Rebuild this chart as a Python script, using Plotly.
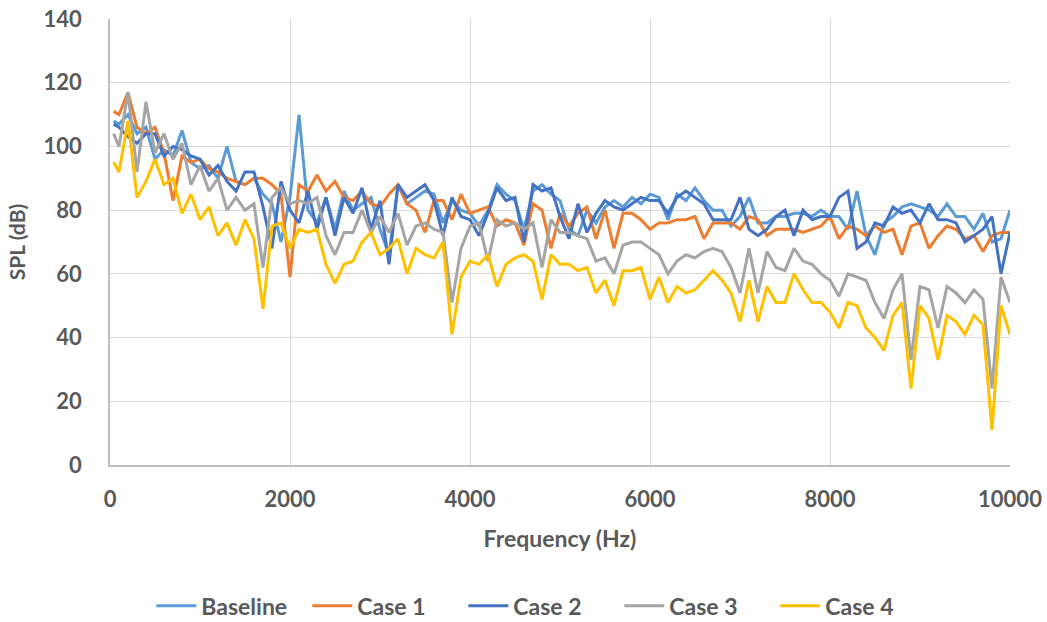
import plotly.graph_objects as go

# Frequency grid (Hz)
freq = [40] + list(range(100, 10001, 100))

baseline = [108, 107, 110, 104, 106, 96, 99, 97, 105, 95,
            93, 94, 90, 100, 89, 88, 90, 85, 82, 70,
            84, 110, 80, 76, 84, 74, 86, 80, 82, 84,
            74, 66, 88, 82, 84, 86, 85, 76, 83, 80,
            79, 75, 80, 88, 85, 83, 74, 86, 88, 85,
            83, 74, 72, 80, 76, 81, 83, 81, 84, 82,
            85, 84, 77, 85, 83, 87, 83, 80, 80, 75,
            78, 84, 76, 76, 78, 78, 79, 79, 78, 80,
            78, 78, 74, 86, 72, 66, 76, 78, 81, 82,
            81, 80, 78, 82, 78, 78, 74, 79, 70, 71,
            80]

case1 = [111, 110, 117, 106, 104, 106, 98, 83, 97, 95,
         96, 93, 92, 90, 89, 88, 90, 90, 88, 85,
         59, 88, 86, 91, 86, 89, 84, 83, 86, 82,
         81, 85, 88, 82, 80, 73, 83, 83, 77, 85,
         79, 80, 81, 75, 77, 76, 69, 82, 80, 68,
         79, 75, 79, 81, 71, 80, 68, 79, 79, 77,
         74, 76, 76, 77, 77, 78, 71, 76, 76, 76,
         74, 78, 77, 72, 74, 74, 74, 73, 74, 75,
         78, 71, 75, 74, 72, 75, 73, 74, 66, 75,
         76, 68, 72, 75, 74, 71, 72, 67, 72, 73,
         73]

case2 = [107, 106, 103, 101, 104, 104, 97, 100, 99, 97,
         96, 91, 94, 89, 86, 92, 92, 81, 68, 89,
         80, 76, 86, 74, 84, 72, 84, 79, 87, 74,
         83, 63, 88, 84, 86, 88, 83, 72, 84, 78,
         77, 72, 79, 87, 83, 84, 70, 88, 86, 87,
         78, 71, 82, 73, 79, 83, 81, 80, 82, 84,
         83, 83, 79, 84, 86, 84, 82, 77, 77, 77,
         84, 74, 72, 74, 78, 80, 72, 80, 77, 78,
         78, 84, 86, 68, 70, 76, 75, 81, 79, 80,
         76, 82, 77, 77, 76, 70, 72, 74, 78, 60,
         73]

case3 = [104, 100, 117, 92, 114, 98, 104, 96, 101, 88,
         94, 86, 90, 80, 84, 80, 82, 62, 84, 87,
         82, 83, 82, 84, 72, 66, 73, 73, 80, 73,
         78, 73, 79, 69, 75, 76, 74, 73, 51, 68,
         75, 76, 64, 77, 75, 76, 74, 76, 62, 77,
         73, 73, 72, 71, 64, 65, 60, 69, 70, 70,
         68, 66, 60, 64, 66, 65, 67, 68, 67, 62,
         54, 68, 54, 67, 62, 61, 68, 64, 63, 60,
         58, 53, 60, 59, 58, 51, 46, 55, 60, 33,
         56, 55, 43, 56, 54, 51, 55, 52, 24, 59,
         51]

case4 = [95, 92, 108, 84, 89, 96, 88, 90, 79, 85,
         77, 81, 72, 76, 69, 77, 71, 49, 75, 76,
         68, 74, 73, 74, 63, 57, 63, 64, 70, 73,
         66, 68, 71, 60, 68, 66, 65, 70, 41, 59,
         64, 63, 66, 56, 63, 65, 66, 64, 52, 66,
         63, 63, 61, 62, 54, 58, 50, 61, 61, 62,
         52, 59, 51, 56, 54, 55, 58, 61, 58, 54,
         45, 58, 45, 56, 51, 51, 60, 55, 51, 51,
         48, 43, 51, 50, 43, 40, 36, 47, 51, 24,
         50, 46, 33, 47, 45, 41, 47, 44, 11, 50,
         41]

series_names = ["Baseline", "Case 1", "Case 2", "Case 3", "Case 4"]
series_values = [baseline, case1, case2, case3, case4]
series_colors = ["#5B9BD5", "#ED7D31", "#4472C4", "#A5A5A5", "#FFC000"]

x_ticks = [0, 2000, 4000, 6000, 8000, 10000]
y_ticks = [0, 20, 40, 60, 80, 100, 120, 140]

fig = go.Figure()
for name, vals, col in zip(series_names, series_values, series_colors):
    fig.add_trace(go.Scatter(x=freq, y=vals, name=f"<b>{name}</b>", mode="lines",
                             line=dict(color=col, width=3)))

font_family = "Lato, 'Open Sans', sans-serif"
text_color = "#595959"
grid_color = "#D9D9D9"
axis_color = "#BFBFBF"

fig.update_layout(
    width=1047, height=622,
    margin=dict(l=110, r=37, t=19, b=157, autoexpand=False),
    paper_bgcolor="white", plot_bgcolor="white",
    font=dict(family=font_family, size=22, color=text_color),
    showlegend=True,
    legend=dict(orientation="h", xref="container", yref="container",
                x=0.517, xanchor="center", y=0.026, yanchor="middle",
                font=dict(size=23, color=text_color, family=font_family),
                itemwidth=40, traceorder="normal", tracegroupgap=0,
                entrywidth=101, entrywidthmode="pixels"),
    xaxis=dict(range=[0, 10000], tickvals=x_ticks,
               ticktext=[f"<b>{v}</b>" for v in x_ticks],
               showgrid=True, gridcolor=grid_color, gridwidth=1.3,
               zeroline=False, showline=True, linecolor=axis_color, linewidth=1.5,
               ticks="", ticklabelstandoff=14, automargin=False,
               title=dict(text="<b>Frequency (Hz)</b>", font=dict(size=23), standoff=20),
               tickfont=dict(size=22)),
    yaxis=dict(range=[0, 140], tickvals=y_ticks,
               ticktext=[f"<b>{v}</b>" for v in y_ticks],
               showgrid=True, gridcolor=grid_color, gridwidth=1.3,
               zeroline=False, showline=True, linecolor=axis_color, linewidth=1.5,
               ticks="", ticklabelstandoff=22, automargin=False,
               title=dict(text="<b>SPL (dB)</b>", font=dict(size=21), standoff=12),
               tickfont=dict(size=22)),
)

fig.write_html("out.html", config={"displayModeBar": False},
               post_script="document.body.style.margin='0';document.body.style.overflow='hidden';")
